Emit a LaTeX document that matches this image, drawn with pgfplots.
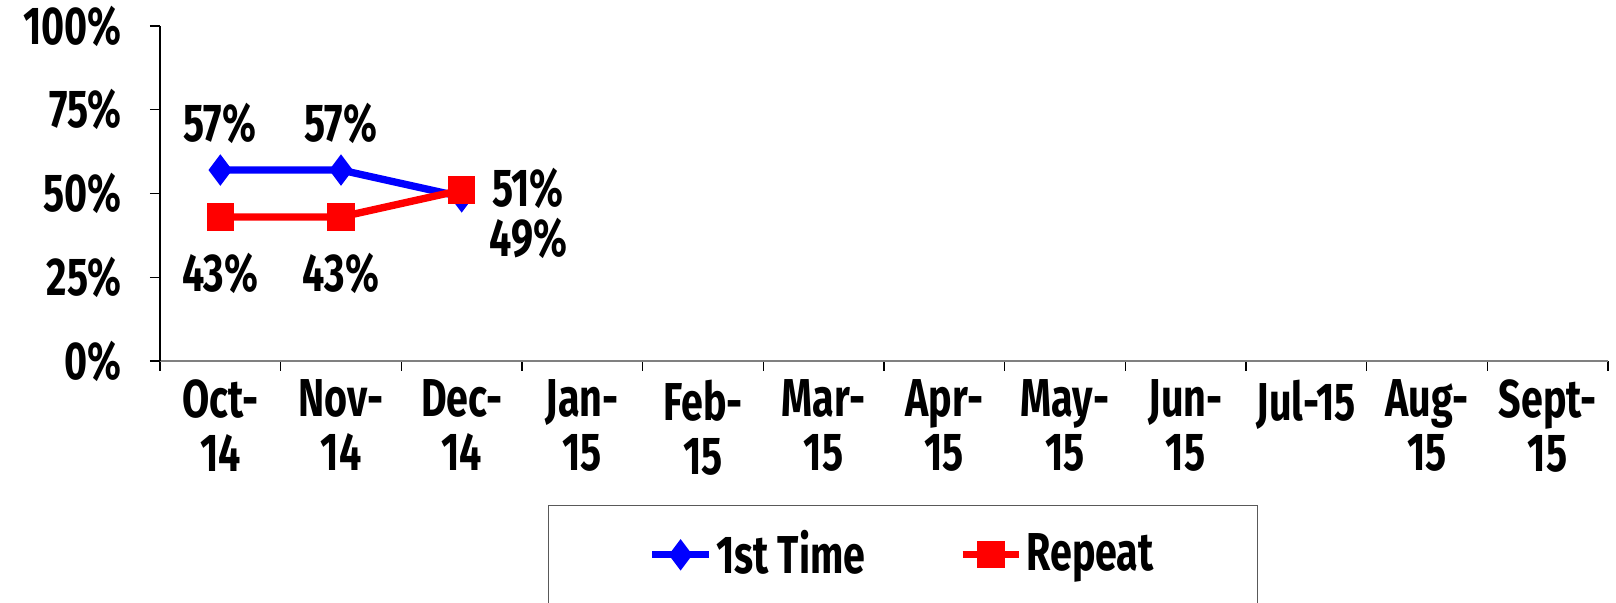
\documentclass[border=0pt]{standalone}
\usepackage{pgfplots}
\pgfplotsset{compat=1.18}
\usepackage{fontspec}
\setmainfont{Fira Sans}[FakeStretch=0.74]
\newcommand{\cf}{\fontsize{16}{16.2}\selectfont\bfseries}
\begin{document}
\begin{tikzpicture}
\begin{axis}[
  scale only axis, width=434.4pt, height=100.5pt,
  xmin=-0.5, xmax=11.5, ymin=0, ymax=100,
  axis lines=left,
  x axis line style={-, gray},
  y axis line style={-, black},
  /pgf/number format/assume math mode=true,
  font=\cf,
  tick align=outside,
  major tick length=3pt,
  tick style={black, thin},
  ytick={0,25,50,75,100},
  yticklabel={\pgfmathprintnumber{\tick}\%},
  yticklabel style={xshift=-5pt},
  xtick={-0.5,0.5,...,11.5},
  xticklabels={},
  extra x ticks={0,1,2,3,4,5,6,7,8,9,10,11},
  extra x tick labels={{Oct-\\14},{Nov-\\14},{Dec-\\14},{Jan-\\15},{Feb-\\15},{Mar-\\15},{Apr-\\15},{May-\\15},{Jun-\\15},{Jul-15\\\strut},{Aug-\\15},{Sept-\\15}},
  extra x tick style={major tick length=0pt, xticklabel style={align=center, anchor=north, yshift=-4.5pt, font=\cf, inner ysep=1pt}},
  legend style={at={(0.513,-0.43)}, anchor=north, draw=gray!70!black, thin,
    inner xsep=30pt, inner ysep=5.5pt, font=\cf,
    nodes={inner xsep=1pt}},
  legend columns=2,
  legend cell align=left,
  /tikz/every even column/.append style={column sep=27pt},
  clip=false,
]
\addplot[blue, line width=2.2pt, mark=diamond*, mark size=4.4pt,
  mark options={solid, line width=0.4pt},
  nodes near coords={\pgfmathprintnumber{\pgfplotspointmeta}\%},
  point meta=y,
  visualization depends on={\thisrow{dx}\as\dx},
  visualization depends on={\thisrow{dy}\as\dy},
  every node near coord/.append style={anchor=center, xshift=\dx pt, yshift=\dy pt, black, font=\cf}]
  table[x=x,y=y] {
x y dx dy
0 57 0 14
1 57 0 14
2 49 20 -12.5
};
\addlegendentry{1st Time}
\addplot[red, line width=2.2pt, mark=square*, mark size=3.9pt,
  mark options={solid, line width=0.4pt},
  nodes near coords={\pgfmathprintnumber{\pgfplotspointmeta}\%},
  point meta=y,
  visualization depends on={\thisrow{dx}\as\dx},
  visualization depends on={\thisrow{dy}\as\dy},
  every node near coord/.append style={anchor=center, xshift=\dx pt, yshift=\dy pt, black, font=\cf}]
  table[x=x,y=y] {
x y dx dy
0 43 0 -17
1 43 0 -17
2 51 20 0.5
};
\addlegendentry{Repeat}
\end{axis}
\pgfresetboundingbox
\useasboundingbox (-48pt,-72.6pt) rectangle (436.8pt,108.3pt);
\end{tikzpicture}
\end{document}
